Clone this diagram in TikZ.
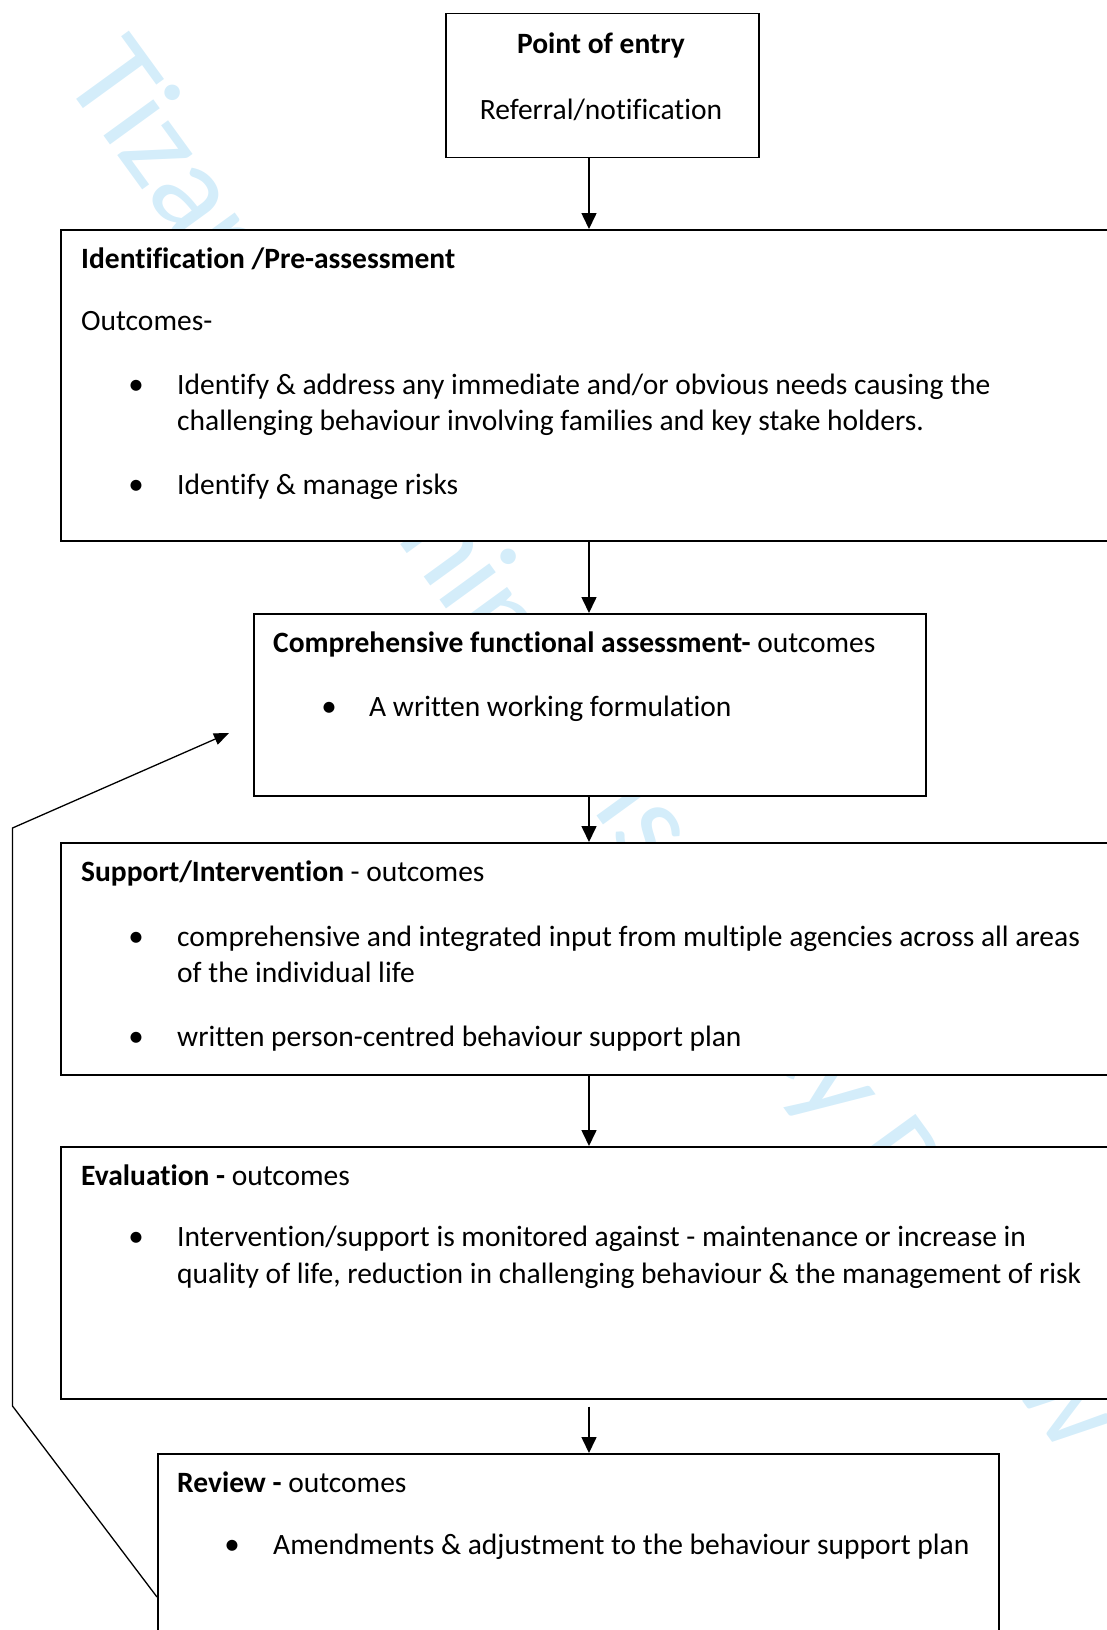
\documentclass[tikz,border=0pt]{standalone}
\usepackage{fontspec}
\setmainfont{Carlito}[Ligatures={NoCommon}]
\usetikzlibrary{arrows.meta,calc}
\definecolor{wmcol}{RGB}{212,237,250}
\tikzset{
  box/.style={draw=black, line width=1.6pt, fill=white, inner sep=0pt, anchor=north west, rectangle},
  txt/.style={anchor=base west, inner sep=0pt, font=\fontsize{29.5}{36}\selectfont},
  ctxt/.style={anchor=base, inner sep=0pt, font=\fontsize{29.5}{36}\selectfont},
  bul/.style={anchor=base, inner sep=0pt, font=\fontsize{31}{36}\selectfont},
  arr/.style={line width=1.6pt, -{Triangle[length=16pt,width=15pt]}},
  fb/.style={line width=1.3pt, -{Triangle[length=15pt,width=12pt]}},
}
\begin{document}
\begin{tikzpicture}[x=1pt,y=-1pt]
\useasboundingbox (0,0) rectangle (1107,1630);
\clip (0,0) rectangle (1107,1630);
% watermark
\node[anchor=base west, rotate=-54, inner sep=0pt, text=wmcol, font=\fontsize{129}{150}\selectfont] (wmark) at (61,78) {Tizard Learning Disability Review};
% boxes
\node[box, minimum width=313pt, minimum height=144pt] (top) at (445,12.5) {};
\node[box, minimum width=1080pt, minimum height=311pt] (ident) at (60,229) {};
\node[box, minimum width=672pt, minimum height=182pt] (comp) at (253,613) {};
\node[box, minimum width=1080pt, minimum height=232pt] (supp) at (60,842) {};
\node[box, minimum width=1080pt, minimum height=252pt] (eval) at (60,1146) {};
\node[box, minimum width=841pt, minimum height=260pt] (review) at (157,1453) {};
% arrows
\coordinate (ax) at (589,0);
\draw[arr] (top.south -| ax) -- (ident.north -| ax);
\draw[arr] (ident.south -| ax) -- (comp.north -| ax);
\draw[arr] (comp.south -| ax) -- (supp.north -| ax);
\draw[arr] (supp.south -| ax) -- (eval.north -| ax);
\draw[arr] ($(eval.south -| ax)+(0,7)$) -- (review.north -| ax);
% feedback loop
\coordinate (fbs) at ($(review.north west)+(0,144)$);
\coordinate (fb1) at (12.5,1406);
\coordinate (fb2) at (12.5,828);
\coordinate (fbe) at (229,733);
\draw[fb] (fbs) -- (fb1) -- (fb2) -- (fbe);
% texts
\node[ctxt] (t1) at (601,53) {\bfseries Point of entry};
\node[ctxt] (t2) at (601,119) {Referral/notification};

\node[txt] (i1) at (81,268) {\bfseries Identification /Pre-assessment};
\node[txt] (i2) at (81,330) {Outcomes-};
\node[bul] (ib1) at (136,394) {•};
\node[txt] (i3) at (177,394) {Identify \& address any immediate and/or obvious needs causing the};
\node[txt] (i4) at (177,430) {challenging behaviour involving families and key stake holders.};
\node[bul] (ib2) at (136,494) {•};
\node[txt] (i5) at (177,494) {Identify \& manage risks};

\node[txt] (c1) at (273,652) {\textbf{Comprehensive functional assessment-} outcomes};
\node[bul] (cb1) at (329,716) {•};
\node[txt] (c2) at (369,716) {A written working formulation};

\node[txt] (s1) at (81,881) {\textbf{Support/Intervention} - outcomes};
\node[bul] (sb1) at (136,946) {•};
\node[txt] (s2) at (177,946) {comprehensive and integrated input from multiple agencies across all areas};
\node[txt] (s3) at (177,982) {of the individual life};
\node[bul] (sb2) at (136,1046) {•};
\node[txt] (s4) at (177,1046) {written person-centred behaviour support plan};

\node[txt] (e1) at (81,1185) {\textbf{Evaluation -} outcomes};
\node[bul] (eb1) at (136,1246) {•};
\node[txt] (e2) at (177,1246) {Intervention/support is monitored against - maintenance or increase in};
\node[txt] (e3) at (177,1283) {quality of life, reduction in challenging behaviour \& the management of risk};

\node[txt] (r1) at (177,1492) {\textbf{Review -} outcomes};
\node[bul] (rb1) at (232,1554) {•};
\node[txt] (r2) at (273,1554) {Amendments \& adjustment to the behaviour support plan};
\end{tikzpicture}
\end{document}
